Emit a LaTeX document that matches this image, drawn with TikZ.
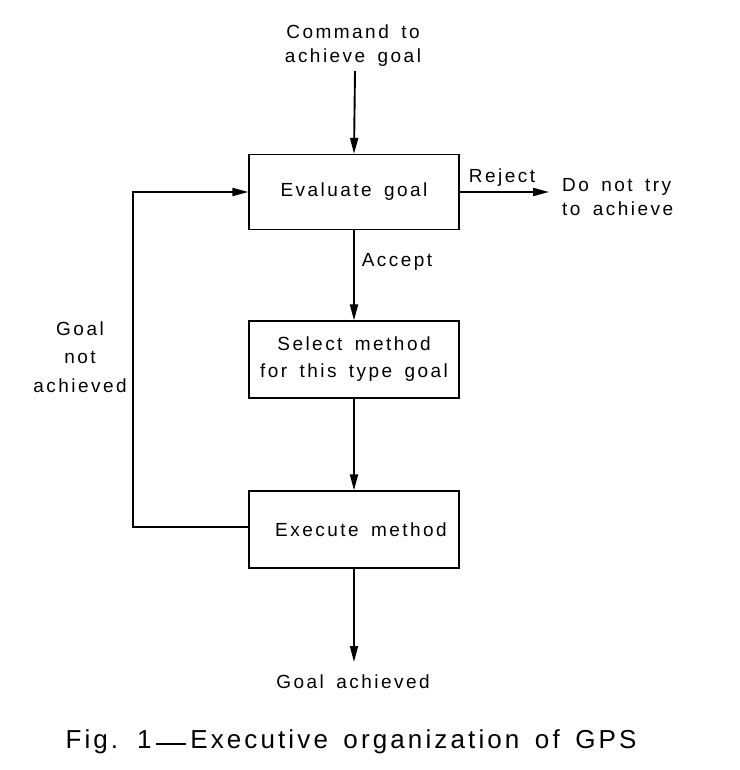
\documentclass[tikz,border=0pt]{standalone}
\usepackage{fontspec}
\setmainfont{Liberation Sans}[LetterSpace=13,WordSpace=1.6]
\newfontfamily\capfont{Liberation Sans}[LetterSpace=12,WordSpace=1.5]
\usetikzlibrary{arrows.meta,positioning}
\begin{document}
\begin{tikzpicture}[x=1pt,y=-1pt,
  every node/.style={font=\fontsize{19}{24}\selectfont, inner sep=0pt},
  box/.style={draw, line width=1.3pt, minimum width=210pt, minimum height=75pt, align=center},
  lbl/.style={align=center},
  conn/.style={line width=1.9pt, -{Triangle[length=16pt,width=8pt]}},
  plain/.style={line width=1.9pt}]
\useasboundingbox (0,0) rectangle (739,770);
\node[lbl] (cmd) at (353,46) {Command to\\achieve goal};
\coordinate (cmdend) at (355,71);
\node[box] (eval) at (354,192) {Evaluate goal};
\node[box, minimum height=77pt, font=\fontsize{19}{27}\selectfont] (select) at (354,359.5) {Select method\\for this type goal};
\node[box, minimum height=77pt] (exec) at (354,529.5) {\hspace*{14pt}Execute method};
\coordinate (rejend) at (549,192);
\node[align=left, anchor=west] (notry) at (562,197) {Do not try\\to achieve};
\node (reject) at (502,178) {Reject};
\node (accept) at (397,262) {Accept};
\coordinate (loop) at (133,527);
\node[lbl, font=\fontsize{19}{28.5}\selectfont] (notach) at (80,357) {Goal\\not\\achieved};
\coordinate (achend) at (354,662);
\node (ach) at (353,682) {Goal achieved};
\node[font=\capfont\fontsize{26}{30}\selectfont] (cap) at (351,742) {Fig. 1\,\raisebox{0.3ex}{\rule{30pt}{1.8pt}}\,Executive organization of GPS};
\draw[conn] (cmdend) -- (eval.north);
\draw[conn] (eval.east) -- (rejend);
\draw[conn] (eval.south) -- (select.north);
\draw[conn] (select.south) -- (exec.north);
\draw[conn] (exec.south) -- (achend);
\draw[conn] (exec.west |- loop) -- (loop) |- (eval.west);
\end{tikzpicture}
\end{document}
